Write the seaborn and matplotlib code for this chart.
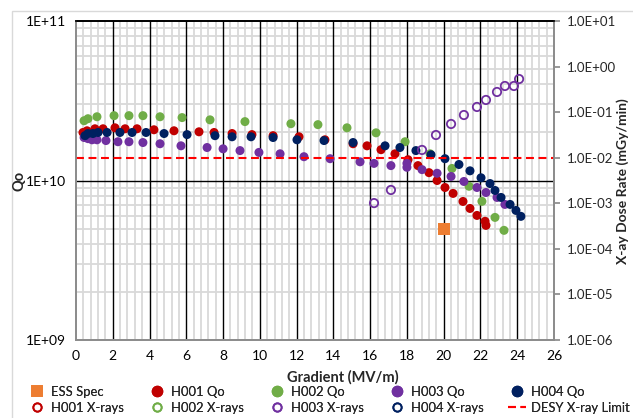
import matplotlib
matplotlib.use("Agg")
import matplotlib.pyplot as plt
import seaborn as sns
import pandas as pd
from matplotlib.lines import Line2D
from matplotlib.patches import Rectangle
from matplotlib.ticker import MultipleLocator, LogLocator, FixedLocator, FixedFormatter, NullFormatter

# ---- data ----
ess_grad = [20.0]
ess_qo = [5.0e9]

h001_grad = [0.38, 0.60, 1.03, 1.47, 2.12, 2.67, 3.32, 4.24, 5.33, 6.69, 7.51, 8.49, 9.57,
             10.72, 12.13, 13.54, 15.07, 15.83, 16.59, 17.35, 18.06, 18.60, 19.20, 19.64,
             20.07, 20.51, 21.05, 21.43, 21.81, 22.25, 22.30]
h001_qo = [2.00e10, 2.05e10, 2.11e10, 2.11e10, 2.14e10, 2.11e10, 2.11e10, 2.08e10, 2.05e10,
           2.02e10, 2.00e10, 1.97e10, 1.94e10, 1.91e10, 1.88e10, 1.80e10, 1.70e10, 1.65e10,
           1.56e10, 1.47e10, 1.35e10, 1.24e10, 1.12e10, 1.00e10, 9.04e9, 8.30e9, 7.39e9,
           6.68e9, 6.04e9, 5.55e9, 5.23e9]

h002_grad = [0.44, 0.65, 1.14, 2.07, 2.88, 3.64, 4.57, 5.77, 7.29, 9.19, 11.69, 13.16, 14.74,
             16.32, 17.90, 19.26, 20.45, 21.38, 22.08, 22.79, 23.28]
h002_qo = [2.37e10, 2.44e10, 2.51e10, 2.55e10, 2.55e10, 2.55e10, 2.51e10, 2.48e10, 2.40e10,
           2.34e10, 2.27e10, 2.24e10, 2.14e10, 1.99e10, 1.75e10, 1.47e10, 1.19e10, 9.2e9,
           7.4e9, 5.87e9, 4.87e9]

h003_grad = [0.44, 0.65, 0.87, 1.14, 1.63, 2.28, 2.88, 3.64, 4.57, 5.71, 7.13, 8.00, 8.92,
             9.95, 11.10, 12.40, 13.82, 15.45, 16.21, 17.13, 18.00, 18.00, 18.82, 19.64,
             20.40, 21.10, 21.81, 22.30, 22.90, 23.33]
h003_qo = [1.86e10, 1.83e10, 1.80e10, 1.80e10, 1.78e10, 1.75e10, 1.75e10, 1.73e10, 1.70e10,
           1.65e10, 1.61e10, 1.58e10, 1.54e10, 1.50e10, 1.47e10, 1.41e10, 1.37e10, 1.31e10,
           1.28e10, 1.24e10, 1.28e10, 1.21e10, 1.17e10, 1.11e10, 1.06e10, 9.86e9, 9.04e9,
           8.41e9, 7.83e9, 7.08e9]

h004_grad = [0.49, 0.65, 0.92, 1.20, 1.69, 2.39, 3.05, 3.81, 4.79, 6.04, 7.56, 8.49, 9.52,
             10.72, 12.02, 13.49, 15.07, 16.81, 17.62, 18.49, 19.31, 20.07, 20.83, 21.43,
             22.03, 22.52, 22.79, 23.12, 23.61, 23.93, 24.20]
h004_qo = [1.91e10, 1.97e10, 1.97e10, 2.00e10, 2.00e10, 2.00e10, 2.00e10, 2.00e10, 1.97e10,
           1.94e10, 1.91e10, 1.88e10, 1.88e10, 1.86e10, 1.80e10, 1.78e10, 1.73e10, 1.65e10,
           1.61e10, 1.54e10, 1.45e10, 1.37e10, 1.26e10, 1.15e10, 1.04e10, 9.57e9, 8.66e9,
           7.83e9, 7.08e9, 6.49e9, 5.96e9]

h003_xray_grad = [16.21, 17.13, 18.82, 19.58, 20.40, 21.10, 21.81, 22.30, 22.90, 23.33, 23.82, 24.10]
h003_xray_dose = [1.01e-3, 1.96e-3, 1.48e-2, 3.15e-2, 5.5e-2, 8.65e-2, 0.130, 0.185, 0.277,
                  0.375, 0.375, 0.533]

desy_limit = 1.0e-2

left_ticks = [1e9, 1e10, 1e11]
left_labels = ["1E+09", "1E+10", "1E+11"]
right_ticks = [1e-6, 1e-5, 1e-4, 1e-3, 1e-2, 1e-1, 1e0, 1e1]
right_labels = ["1.0E-06", "1.0E-05", "1.0E-04", "1.0E-03", "1.0E-02", "1.0E-01",
                "1.0E+00", "1.0E+01"]

colors = {"H001": "#c00000", "H002": "#70ad47", "H003": "#7030a0", "H004": "#002060"}
ess_color = "#ed7d31"
desy_color = "#ff0000"

# ---- build long table for the Qo series ----
qo_df = pd.concat([
    pd.DataFrame({"grad": h001_grad, "qo": h001_qo, "cavity": "H001"}),
    pd.DataFrame({"grad": h002_grad, "qo": h002_qo, "cavity": "H002"}),
    pd.DataFrame({"grad": h003_grad, "qo": h003_qo, "cavity": "H003"}),
    pd.DataFrame({"grad": h004_grad, "qo": h004_qo, "cavity": "H004"}),
], ignore_index=True)

sns.set_theme(style="white")
plt.rcParams["font.family"] = ["Lato", "DejaVu Sans"]
plt.rcParams["font.size"] = 10

fig = plt.figure(figsize=(6.33, 4.18), dpi=100)
ax = fig.add_axes([76 / 633, 1 - 340 / 418, (554 - 76) / 633, (340 - 21) / 418])

ax.set_yscale("log")
ax.set_xlim(0, 26)
ax.set_ylim(1e9, 1e11)
ax.xaxis.set_major_locator(MultipleLocator(2))
ax.xaxis.set_minor_locator(MultipleLocator(0.4))
ax.yaxis.set_major_locator(FixedLocator(left_ticks))
ax.yaxis.set_major_formatter(FixedFormatter(left_labels))
ax.yaxis.set_minor_locator(LogLocator(base=10, subs=range(2, 10)))
ax.yaxis.set_minor_formatter(NullFormatter())
ax.grid(which="minor", color="#d9d9d9", lw=1.3)
ax.set_axisbelow(True)
ax.tick_params(which="both", length=0, labelsize=10, colors="#404040", pad=7)
ax.tick_params(axis="both", labelcolor="black")

# major gridlines drawn above the minor ones (as in the spreadsheet chart)
for xv in ax.get_xticks():
    if 0 < xv < 26:
        ax.axvline(xv, color="black", lw=1.0, zorder=1)
ax.axhline(left_ticks[1], color="black", lw=1.0, zorder=1)

sns.scatterplot(data=qo_df, x="grad", y="qo", hue="cavity", palette=colors,
                s=42, linewidth=0, legend=False, ax=ax, zorder=3)
sns.scatterplot(x=ess_grad, y=ess_qo, marker="s", color=ess_color, s=65, linewidth=0,
                ax=ax, zorder=3)
ax.set_xlabel("")
ax.set_ylabel("")

for side in ["left", "bottom", "right"]:
    ax.spines[side].set_color("#8c8c8c")
ax.spines["top"].set_color("black")

# right axis : X-ray dose rate
ax2 = ax.twinx()
ax2.set_yscale("log")
ax2.set_ylim(1e-6, 1e1)
ax2.yaxis.set_major_locator(FixedLocator(right_ticks))
ax2.yaxis.set_major_formatter(FixedFormatter(right_labels))
ax2.yaxis.set_minor_locator(FixedLocator([]))
ax2.tick_params(axis="y", which="major", length=4, color="#8c8c8c", labelsize=9.5, pad=5)
ax2.axhline(desy_limit, color=desy_color, lw=1.5, ls=(0, (3.8, 2.2)), zorder=2)
sns.scatterplot(x=h003_xray_grad, y=h003_xray_dose, marker="o", s=36,
                facecolors="none", edgecolor=colors["H003"], linewidth=1.3, ax=ax2, zorder=4)
for side in ["left", "bottom", "right"]:
    ax2.spines[side].set_color("#8c8c8c")
ax2.spines["top"].set_color("black")
ax2.set_ylabel("")

# axis titles
fig.text(20 / 633, 1 - 181 / 418, "Qo", rotation=90, ha="center", va="center",
         fontsize=10.5, fontweight="bold")
fig.text(623 / 633, 1 - 181 / 418, "X-ay Dose Rate (mGy/min)", rotation=90, ha="center",
         va="center", fontsize=10, fontweight="bold")
fig.text(343 / 633, 1 - 377 / 418, "Gradient (MV/m)", ha="center", va="center",
         fontsize=10.5, fontweight="bold")

# legend, laid out in 5 columns x 2 rows
def dot(c, filled=True, marker="o", ms=7):
    return Line2D([], [], ls="none", marker=marker, ms=ms, mew=1.3,
                  mfc=c if filled else "none", mec=c)

columns = [
    ([dot(ess_color, marker="s", ms=7.5), dot(colors["H001"], False, ms=6)],
     ["ESS Spec", "H001 X-rays"]),
    ([dot(colors["H001"]), dot(colors["H002"], False, ms=6)], ["H001 Qo", "H002 X-rays"]),
    ([dot(colors["H002"]), dot(colors["H003"], False, ms=6)], ["H002 Qo", "H003 X-rays"]),
    ([dot(colors["H003"]), dot(colors["H004"], False, ms=6)], ["H003 Qo", "H004 X-rays"]),
    ([dot(colors["H004"]), Line2D([], [], color=desy_color, lw=1.5, ls=(0, (3.8, 2.2)))],
     ["H004 Qo", "DESY X-ray Limit"]),
]
for i, (handles, labels) in enumerate(columns):
    leg = fig.legend(handles, labels, loc="upper left",
                     bbox_to_anchor=((28 + 120 * i) / 633, 1 - 386 / 418),
                     frameon=False, borderpad=0, borderaxespad=0, handlelength=1.4,
                     handletextpad=0.35, labelspacing=0.3, fontsize=9.4)
    fig.add_artist(leg)

# light chart-area border
fig.patches.append(Rectangle((12 / 633, -0.02), 0.99, 1 - 11 / 418 + 0.02,
                             transform=fig.transFigure, fill=False, ec="#d9d9d9", lw=1))

fig.savefig("out.png", dpi=100)
